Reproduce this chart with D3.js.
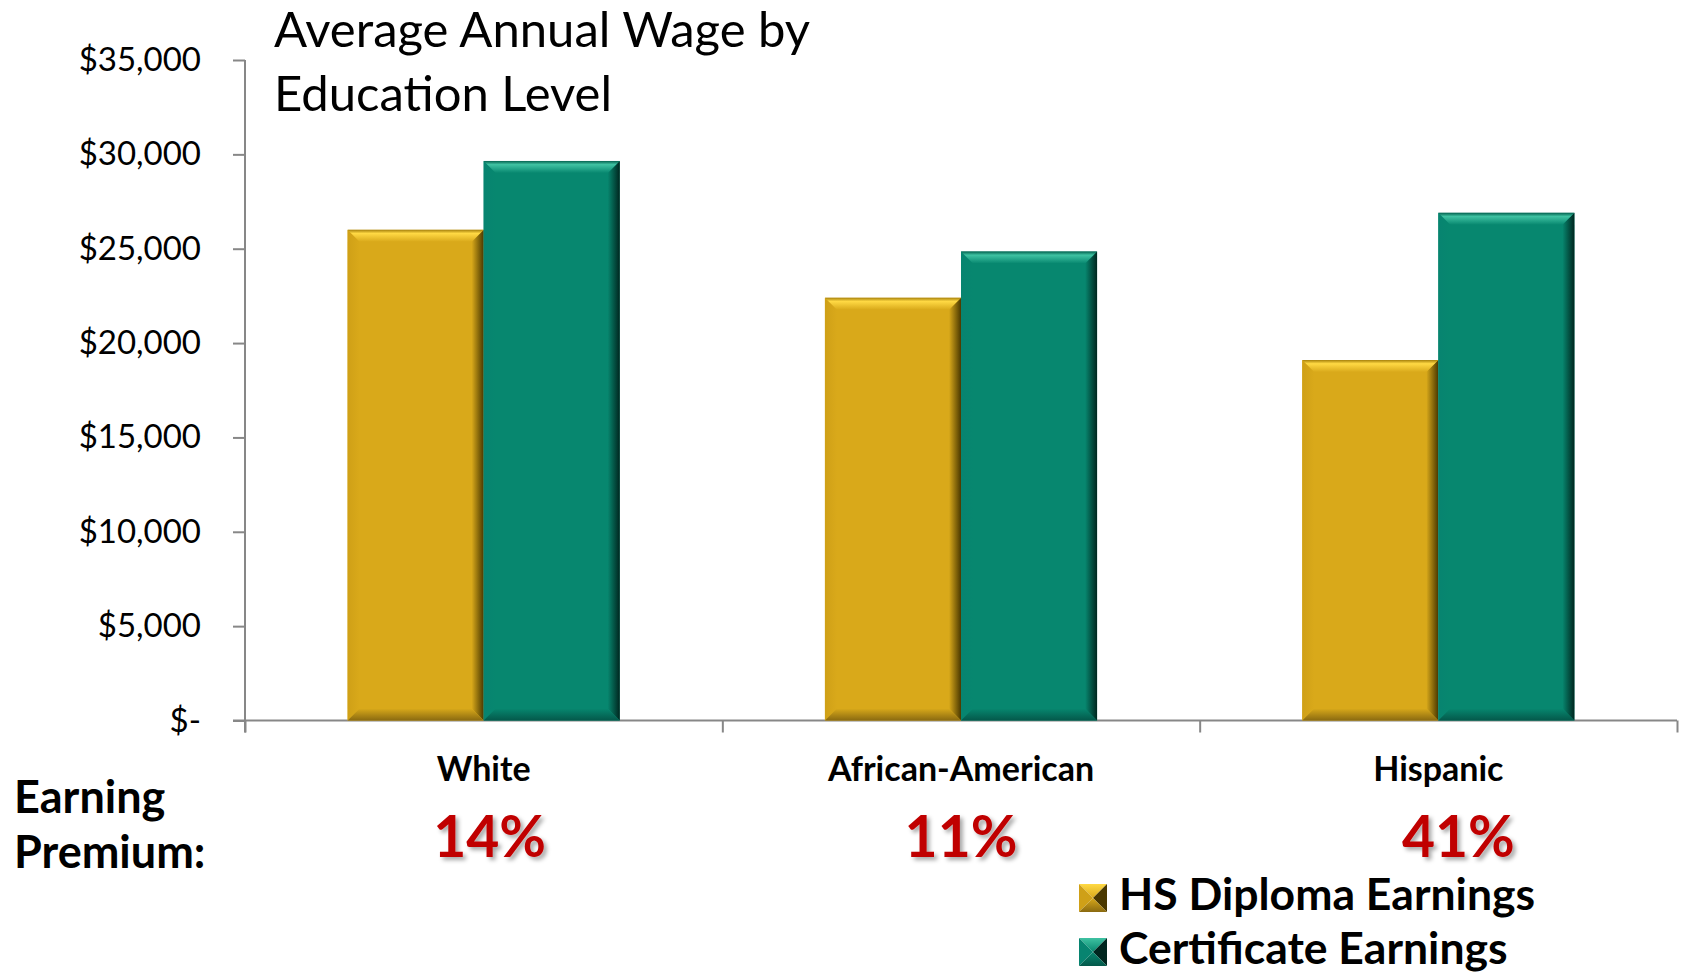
<!DOCTYPE html>
<html>
<head>
<meta charset="utf-8">
<script src="https://cdn.jsdelivr.net/npm/d3@7/dist/d3.min.js"></script>
<style>
  html, body { margin: 0; padding: 0; background: #ffffff; }
  svg { display: block; font-family: Lato, "Open Sans", sans-serif; }
</style>
</head>
<body>
<svg id="chart" width="1685" height="973"></svg>
<script>
// ---- data ----
const categories = ["White", "African-American", "Hispanic"];
const seriesNames = ["HS Diploma Earnings", "Certificate Earnings"];
const hsDiploma = [26000, 22400, 19100];
const certificate = [29650, 24850, 26900];
const yTickValues = [0, 5000, 10000, 15000, 20000, 25000, 30000, 35000];
const yTickLabels = ["$-", "$5,000", "$10,000", "$15,000", "$20,000", "$25,000", "$30,000", "$35,000"];
const titleLines = ["Average Annual Wage by", "Education Level"];
const premiumLabel = ["Earning", "Premium:"];

// ---- layout ----
const svg = d3.select("#chart");
const plot = { left: 245, right: 1677, top: 60, bottom: 720.5 };

const x0 = d3.scaleBand().domain(categories).range([plot.left, plot.right]).padding(0);
const x1 = d3.scaleBand().domain(seriesNames).range([0, x0.bandwidth()])
  .paddingInner(0).paddingOuter(0.754);
const y = d3.scaleLinear().domain([0, 35000]).range([plot.bottom, plot.top]);

const palette = {
  "HS Diploma Earnings": { face: "#D9A91A", edge: "#A8820C", bright: "#FFD944", left: "#CFA017", dark: "#4A3800", low: "#8A6A10" },
  "Certificate Earnings": { face: "#07876F", edge: "#046350", bright: "#3FC2A2", left: "#078470", dark: "#00261F", low: "#04584A" }
};

// ---- gradients for the bevelled bars ----
const defs = svg.append("defs");
seriesNames.forEach((s, i) => {
  const c = palette[s];
  const mk = (id, x2, y2, stops) => {
    const g = defs.append("linearGradient").attr("id", id)
      .attr("x1", 0).attr("y1", 0).attr("x2", x2).attr("y2", y2);
    stops.forEach(([o, col]) => g.append("stop").attr("offset", o).attr("stop-color", col));
  };
  mk(`top${i}`, 0, 1, [[0, c.edge], [0.3, c.bright], [1, c.face]]);
  mk(`right${i}`, 1, 0, [[0, c.face], [1, c.dark]]);
  mk(`bottom${i}`, 0, 1, [[0, c.face], [1, c.low]]);
  mk(`left${i}`, 1, 0, [[0, c.left], [1, c.face]]);
  // legend swatch gradients
  mk(`swTop${i}`, 0, 1, [[0, c.bright], [1, c.face]]);
  mk(`swBot${i}`, 0, 1, [[0, c.face], [1, c.low]]);
});

const shadow = defs.append("filter").attr("id", "pctShadow")
  .attr("x", "-20%").attr("y", "-20%").attr("width", "150%").attr("height", "150%");
shadow.append("feDropShadow").attr("dx", 3).attr("dy", 3).attr("stdDeviation", 2)
  .attr("flood-color", "#000").attr("flood-opacity", 0.35);

// ---- axes ----
const yAxis = d3.axisLeft(y).tickValues(yTickValues)
  .tickFormat((d, i) => yTickLabels[i]).tickSize(12).tickSizeOuter(0).tickPadding(32);
const gy = svg.append("g").attr("transform", `translate(${plot.left},0)`).call(yAxis);
gy.select(".domain").attr("stroke", "#878787").attr("stroke-width", 2)
  .attr("d", `M0,${plot.top}V${plot.bottom + 12}`);
gy.selectAll(".tick line").attr("stroke", "#878787").attr("stroke-width", 2);
gy.selectAll(".tick text").attr("font-size", 33).attr("fill", "#000")
  .attr("font-family", "Lato, sans-serif");

const xBound = d3.scaleLinear().domain([0, categories.length]).range([plot.left, plot.right]);
const xAxis = d3.axisBottom(xBound).tickValues(d3.range(categories.length + 1))
  .tickFormat("").tickSize(12).tickSizeOuter(0);
const gx = svg.append("g").attr("transform", `translate(0,${plot.bottom})`).call(xAxis);
gx.select(".domain").attr("stroke", "#878787").attr("stroke-width", 2)
  .attr("d", `M${plot.left - 12},0H${plot.right}`);
gx.selectAll(".tick line").attr("stroke", "#878787").attr("stroke-width", 2);

// ---- bars ----
const rows = categories.map((c, i) => ({ cat: c, vals: [hsDiploma[i], certificate[i]] }));
const bev = 12;
const groups = svg.append("g").selectAll("g.cat").data(rows).join("g")
  .attr("class", "cat").attr("transform", d => `translate(${x0(d.cat)},0)`);

groups.each(function (row) {
  const g = d3.select(this);
  row.vals.forEach((v, si) => {
    const s = seriesNames[si];
    const xa = x1(s), xb = xa + x1.bandwidth();
    const ya = y(v), yb = y(0);
    const b = Math.min(bev, (yb - ya) / 2);
    const bar = g.append("g");
    bar.append("rect").attr("x", xa).attr("y", ya).attr("width", xb - xa).attr("height", yb - ya)
      .attr("fill", palette[s].face);
    const poly = (pts, fill) => bar.append("polygon")
      .attr("points", pts.map(p => p.join(",")).join(" ")).attr("fill", fill);
    poly([[xa, ya], [xa + b, ya + b], [xa + b, yb - b], [xa, yb]], `url(#left${si})`);
    poly([[xb, ya], [xb, yb], [xb - b, yb - b], [xb - b, ya + b]], `url(#right${si})`);
    poly([[xa, yb], [xa + b, yb - b], [xb - b, yb - b], [xb, yb]], `url(#bottom${si})`);
    poly([[xa, ya], [xb, ya], [xb - b, ya + b], [xa + b, ya + b]], `url(#top${si})`);
  });
});

// ---- category labels and premiums ----
const centre = c => x0(c) + x0.bandwidth() / 2;
svg.append("g").selectAll("text").data(categories).join("text")
  .attr("x", centre).attr("y", 781).attr("text-anchor", "middle")
  .attr("font-size", 34).attr("font-weight", 700).attr("fill", "#000")
  .text(d => d);

const pct = d3.format(".0%");
const premiumShift = [6, 0, 20];
svg.append("g").selectAll("text").data(rows).join("text")
  .attr("x", (d, i) => centre(d.cat) + premiumShift[i]).attr("y", 857).attr("text-anchor", "middle")
  .attr("font-size", 57).attr("font-weight", 700).attr("fill", "#C00000")
  .attr("filter", "url(#pctShadow)")
  .text(d => pct(d.vals[1] / d.vals[0] - 1));

svg.append("g").selectAll("text").data(premiumLabel).join("text")
  .attr("x", 14).attr("y", (d, i) => 813 + i * 55)
  .attr("font-size", 45).attr("font-weight", 700).attr("fill", "#000")
  .text(d => d);

// ---- title ----
svg.append("g").selectAll("text").data(titleLines).join("text")
  .attr("x", 274).attr("y", (d, i) => 47 + i * 64)
  .attr("font-size", 49).attr("fill", "#000")
  .text(d => d);

// ---- legend ----
const legend = svg.append("g").attr("transform", "translate(1079,884)");
seriesNames.forEach((s, i) => {
  const g = legend.append("g").attr("transform", `translate(0,${i * 54})`);
  const w = 28, h = 28, cx = w / 2, cy = h / 2, c = palette[s];
  const tri = (pts, fill) => g.append("polygon").attr("points", pts.map(p => p.join(",")).join(" ")).attr("fill", fill);
  tri([[0, 0], [w, 0], [cx, cy]], `url(#swTop${i})`);
  tri([[0, 0], [cx, cy], [0, h]], c.left);
  tri([[w, 0], [w, h], [cx, cy]], c.dark);
  tri([[0, h], [cx, cy], [w, h]], `url(#swBot${i})`);
  g.append("text").attr("x", 40).attr("y", 26)
    .attr("font-size", 44.5).attr("font-weight", 700).attr("fill", "#000").text(s);
});
</script>
</body>
</html>
